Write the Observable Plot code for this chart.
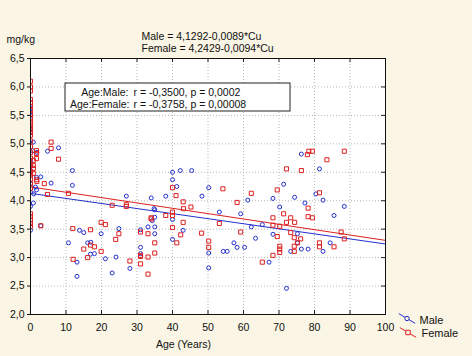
<!DOCTYPE html>
<html>
<head>
<meta charset="utf-8">
<script src="https://cdn.jsdelivr.net/npm/d3@7"></script>
<script src="https://cdn.jsdelivr.net/npm/@observablehq/plot@0.6"></script>
<style>
  html, body { margin: 0; padding: 0; background: #faf5e4; }
  #chart { width: 472px; height: 356px; }
  svg { font-family: "Liberation Sans", Arial, sans-serif; }
</style>
</head>
<body>
<div id="chart"></div>
<script>
// ---- data ----
const maleAge = [
  0,0,0,0,0,0,0,0,0,0,0,0,
  0.8,0.6,1.8,4.8,7.9,1.7,2.9,5.8,11.8,11.8,1.7,1.4,0.9,0.8,2.9,27,34,34.8,
  10.7,13.1,13.1,13.8,15,16.1,17,16.9,18,19.9,21.1,23,24.9,24.1,28,31,31,31,33.1,34.3,35,35,35,35,
  40,42.2,45.4,40,41.2,50.2,48.3,38.1,61.2,71.3,68.3,74.4,70.2,77.3,76.3,81.4,80.4,82.4,88.4,
  40,40,43,50.2,50.2,53.2,54.3,55.4,57.3,58.2,59.2,60.3,62.2,63.4,65.3,67.2,68.3,72.1,73.3,75.2,75.2,76.3,78.2,85.5,84.4,82.4
];
const maleCu = [
  5.62,5.56,5.5,5.27,5.2,4.7,4.6,4.5,4.3,4.15,3.9,3.48,
  5.03,4.88,4.85,4.87,4.93,4.41,4.42,4.31,4.53,4.27,4.19,4.24,4.12,3.96,3.56,4.08,4.05,3.86,
  3.26,2.92,2.67,3.48,3.44,3.26,3.27,3.06,3.07,3.42,2.98,2.73,3.51,3.01,2.81,3.49,3.18,3.07,3.54,3.65,3.71,3.84,3.54,3.42,
  4.5,4.53,4.53,4.37,4.25,4.23,4.08,4.08,4.01,4.29,4.04,4.06,3.89,3.96,4.82,4.56,4.12,4.01,3.9,
  3.67,3.32,3.48,3.08,2.82,3.8,3.11,3.11,3.26,3.18,3.77,3.18,3.54,3.34,3.58,2.92,3.41,2.46,3.11,3.42,3.26,3.15,3.15,3.74,3.26,3.11
];
const femaleAge = [
  0,0,0,0,0,0,0,0,0,0,0,0,0,0,0,0,0,0,0,0,0,0,0,0,0,0,0,0,0,0,
  1.7,1.7,1.7,5.8,5.8,7.9,0.8,0.8,0.8,0.8,1.7,1.8,3.9,4.8,10.7,23,27,27,2.9,
  11.9,12,15,16.9,16.9,18,16.1,19.9,21.1,19.9,24.9,24,28,31,31,31,31,33.1,33.1,33.1,34,34,35,35,
  78.4,78,72.1,76.3,40,41,54.2,62.2,58.2,69.5,43,45.2,43.1,79.4,88.4,83.5,81.4,78.2,
  38.1,40,40,40,41.2,42.3,43,48.2,50.2,50.2,53.2,59.2,65.3,68.3,68.3,69.5,68.3,70.2,70.2,70.2,70.2,71.3,72.1,73.3,73.3,74.4,74.3,75.2,74.3,74.3,76.1,78.2,79.4,87.5,88.4,81.4,81.4,85.5
];
const femaleCu = [
  6.1,6.0,5.93,5.78,5.72,5.66,5.6,5.52,5.45,5.4,5.35,5.3,5.25,5.2,5.15,5.05,4.95,4.85,4.75,4.62,4.52,4.45,4.38,4.3,4.22,3.77,3.72,3.66,3.6,3.55,
  4.88,4.83,4.74,5.03,4.92,4.73,4.71,4.62,4.57,4.48,4.37,4.34,4.3,4.11,4.13,3.92,3.93,3.9,3.56,
  3.51,2.97,3.15,3.49,3.22,3.19,3.0,3.62,3.58,3.11,3.42,3.32,2.94,3.45,3.04,3.02,2.89,3.42,3.01,2.71,3.7,3.68,3.26,3.08,
  4.87,4.81,4.56,4.53,4.23,4.09,4.21,4.13,3.97,4.19,3.98,3.89,3.86,4.87,4.87,4.72,4.14,3.87,
  3.74,3.8,3.74,3.53,3.26,3.4,3.62,3.43,3.29,3.18,3.6,3.45,2.92,3.7,3.57,3.37,3.04,3.55,3.2,3.15,3.09,3.77,3.62,3.7,3.44,3.62,3.35,3.26,3.2,3.11,3.33,3.72,3.7,3.45,3.33,3.26,3.19,3.19
];
// regression coefficients (from the chart text)
const maleIntercept = 4.1292, maleSlope = -0.0089;
const femaleIntercept = 4.2429, femaleSlope = -0.0094;
const xTicks = [0,10,20,30,40,50,60,70,80,90,100];
const yTicks = [2.0,2.5,3.0,3.5,4.0,4.5,5.0,5.5,6.0,6.5];
const lineX = [0, 100];
const equationLines = ["Male = 4,1292-0,0089*Cu", "Female = 4,2429-0,0094*Cu"];
const statLabels = ["Age:Male:", "Age:Female:"];
const statValues = ["r = -0,3500, p = 0,0002", "r = -0,3758, p = 0,00008"];
const seriesNames = ["Male", "Female"];
const yUnit = "mg/kg";
const xTitle = "Age (Years)";

// ---- build tables ----
const male = maleAge.map((a, i) => ({age: a, cu: maleCu[i]}));
const female = femaleAge.map((a, i) => ({age: a, cu: femaleCu[i]}));
const maleLine = lineX.map(x => ({age: x, cu: maleIntercept + maleSlope * x}));
const femaleLine = lineX.map(x => ({age: x, cu: femaleIntercept + femaleSlope * x}));

const BLUE = "#2430cc", RED = "#dd2020", INK = "#111";
const fmt = d => d.toFixed(1).replace(".", ",");

// legend symbols: slanted line through a marker
const dirX = 0.86, dirY = 0.51;
function legendSymbol(kind) {
  return {
    draw(ctx, size) {
      const r = Math.sqrt(size / Math.PI);
      const s = Math.sqrt(size) / 2;
      const e = kind === "circle" ? r : s * 1.3;
      ctx.moveTo(-9.5 * dirX, -9.5 * dirY); ctx.lineTo(-e * dirX, -e * dirY);
      ctx.moveTo(e * dirX, e * dirY); ctx.lineTo(9.5 * dirX, 9.5 * dirY);
      if (kind === "circle") {
        ctx.moveTo(r, 0); ctx.arc(0, 0, r, 0, 2 * Math.PI);
      } else {
        ctx.rect(-s, -s, 2 * s, 2 * s);
      }
    }
  };
}

const txt = (t, o) => Plot.text([t], {text: d => d, fill: INK, fontSize: 10.5, lineAnchor: "middle", ...o});

const chart = Plot.plot({
  width: 472, height: 356,
  marginLeft: 30, marginRight: 87, marginTop: 58, marginBottom: 42,
  style: {background: "transparent", fontFamily: "Liberation Sans, Arial, sans-serif", fontSize: "10px", color: INK},
  x: {domain: [0, 100]},
  y: {domain: [2, 6.5]},
  marks: [
    Plot.rect([0], {fill: "white"}),
    Plot.gridX(xTicks, {stroke: "#b8b8b8", strokeOpacity: 1, strokeDasharray: "1,2"}),
    Plot.gridY(yTicks, {stroke: "#b8b8b8", strokeOpacity: 1, strokeDasharray: "1,2"}),
    Plot.axisX(xTicks, {tickSize: 0, tickPadding: 9, tickFormat: d => d, label: null, fontSize: 10.5}),
    Plot.axisY(yTicks, {tickSize: 3, tickPadding: 3, tickFormat: fmt, label: null, fontSize: 10.5}),
    Plot.tickX(xTicks, {x: d => d, insetTop: 252, stroke: "#222"}),
    Plot.tickX(xTicks, {x: d => d, insetBottom: 252, stroke: "#222"}),
    Plot.tickY(yTicks, {y: d => d, insetLeft: 351, stroke: "#222"}),
    Plot.line(maleLine, {x: "age", y: "cu", stroke: BLUE, strokeWidth: 1, clip: true}),
    Plot.line(femaleLine, {x: "age", y: "cu", stroke: RED, strokeWidth: 1, clip: true}),
    Plot.dot(male, {x: "age", y: "cu", r: 2.0, stroke: BLUE, strokeWidth: 1, fill: "none", clip: true}),
    Plot.dot(female, {x: "age", y: "cu", r: 2.3, symbol: "square", stroke: RED, strokeWidth: 1, fill: "none", clip: true}),
    // statistics box
    Plot.rect([0], {insetLeft: 35, insetRight: 95, insetTop: 25, insetBottom: 203, fill: "white", stroke: "#222", strokeWidth: 1}),
    txt(statLabels[0], {frameAnchor: "top-left", dx: 98, dy: 34, textAnchor: "end"}),
    txt(statLabels[1], {frameAnchor: "top-left", dx: 99, dy: 46, textAnchor: "end"}),
    txt(statValues[0], {frameAnchor: "top-left", dx: 103, dy: 34, textAnchor: "start"}),
    txt(statValues[1], {frameAnchor: "top-left", dx: 103, dy: 46, textAnchor: "start"}),
    Plot.frame({stroke: INK, strokeWidth: 1}),
    // titles
    txt(equationLines[0], {frameAnchor: "top-left", dx: 111, dy: -22, textAnchor: "start"}),
    txt(equationLines[1], {frameAnchor: "top-left", dx: 111, dy: -10, textAnchor: "start"}),
    txt(yUnit, {frameAnchor: "top-left", dx: -24, dy: -19, textAnchor: "start"}),
    txt(xTitle, {frameAnchor: "bottom", dx: -24.5, dy: 30, textAnchor: "middle"}),
    // legend
    Plot.dot([seriesNames[0]], {frameAnchor: "bottom-right", dx: 21.5, dy: 4, r: 2.2, symbol: legendSymbol("circle"), stroke: BLUE, fill: "none", strokeWidth: 1}),
    Plot.dot([seriesNames[1]], {frameAnchor: "bottom-right", dx: 22.5, dy: 18, r: 2.5, symbol: legendSymbol("square"), stroke: RED, fill: "none", strokeWidth: 1}),
    txt(seriesNames[0], {frameAnchor: "bottom-right", dx: 34, dy: 6, textAnchor: "start", fontSize: 11}),
    txt(seriesNames[1], {frameAnchor: "bottom-right", dx: 36, dy: 19, textAnchor: "start", fontSize: 11})
  ]
});
document.getElementById("chart").appendChild(chart);
</script>
</body>
</html>
